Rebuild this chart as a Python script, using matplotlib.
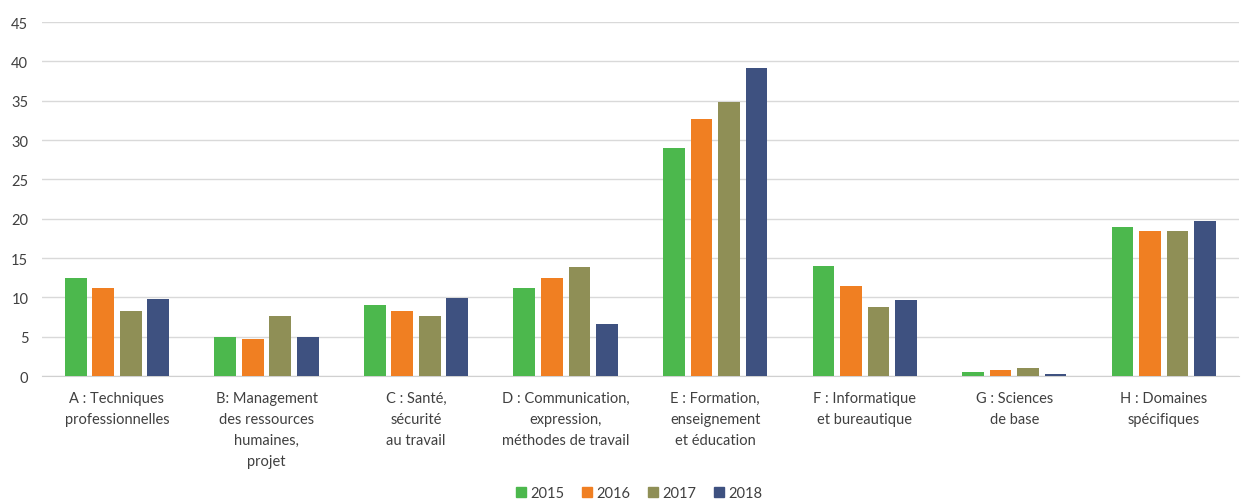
import numpy as np
import matplotlib.pyplot as plt
from matplotlib.patches import Patch

plt.rcParams['font.family'] = ['Lato', 'DejaVu Sans']

categories = [
    "A : Techniques\nprofessionnelles",
    "B: Management\ndes ressources\nhumaines,\nprojet",
    "C : Santé,\nsécurité\nau travail",
    "D : Communication,\nexpression,\nméthodes de travail",
    "E : Formation,\nenseignement\net éducation",
    "F : Informatique\net bureautique",
    "G : Sciences\nde base",
    "H : Domaines\nspécifiques",
]
years = ["2015", "2016", "2017", "2018"]
v2015 = [12.4, 4.9, 9.05, 11.2, 29.0, 14.0, 0.5, 19.0]
v2016 = [11.2, 4.65, 8.25, 12.5, 32.7, 11.5, 0.8, 18.5]
v2017 = [8.25, 7.6, 7.6, 13.8, 34.8, 8.8, 1.05, 18.5]
v2018 = [9.8, 5.0, 9.95, 6.6, 39.1, 9.7, 0.25, 19.65]
series = [v2015, v2016, v2017, v2018]
colors = ["#4cb84d", "#f07f22", "#8f8f56", "#3e5180"]

fig = plt.figure(figsize=(12.41, 5.02), dpi=100)
ax = fig.add_axes([0.034, 0.249, 0.964, 0.705])

x = np.arange(len(categories))
slot = 0.184
width = 0.145
for i, (vals, c) in enumerate(zip(series, colors)):
    ax.bar(x + (i - 1.5) * slot, vals, width, color=c, zorder=3)

ax.set_xlim(-0.5, len(categories) - 0.5)
ax.set_ylim(0, 45)
ax.set_yticks(range(0, 46, 5))
ax.yaxis.grid(True, color="#d9d9d9", linewidth=1, zorder=0)
for s in ["top", "right", "left"]:
    ax.spines[s].set_visible(False)
ax.spines["bottom"].set_color("#d0d0d0")
ax.tick_params(axis="both", length=0, labelsize=10.5, labelcolor="#404040")
ax.tick_params(axis="y", pad=10)
ax.tick_params(axis="x", pad=11)
ax.set_xticks(x)
ax.set_xticklabels(categories, linespacing=1.62, va="top")

handles = [Patch(color=c, label=y) for c, y in zip(colors, years)]
fig.legend(handles=handles, loc="center", bbox_to_anchor=(0.515, 0.016), ncol=4,
           frameon=False, fontsize=10.5, handlelength=0.7, handleheight=0.7,
           handletextpad=0.3, columnspacing=1.2, labelcolor="#404040")

fig.savefig("out.png", dpi=100)
